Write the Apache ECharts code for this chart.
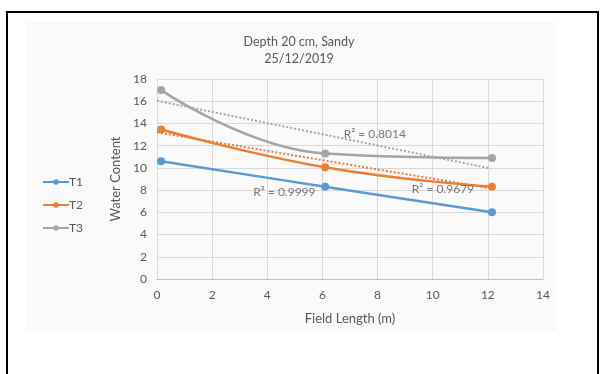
<!DOCTYPE html>
<html><head><meta charset="utf-8">
<script src="https://cdn.jsdelivr.net/npm/echarts@6/dist/echarts.min.js"></script>
<style>html,body{margin:0;padding:0;background:#fff}#c{width:601px;height:374px}</style>
</head><body><div id="c"></div>
<script>
const xValues = [0.15, 6.1, 12.15];
const t1 = [10.6, 8.3, 6.0];
const t2 = [13.45, 10.05, 8.3];
const t3 = [17.0, 11.3, 10.9];
const trendX = [0, 12.1];
const trendT2 = [13.2, 8.15];
const trendT3 = [16.05, 9.95];
const r2Labels = [
  {text: 'R² = 0.8014', x: 7.9, y: 13.05},
  {text: 'R² = 0.9999', x: 4.62, y: 7.83},
  {text: 'R² = 0.9679', x: 10.37, y: 8.1}
];
const xTicks = {min: 0, max: 14, interval: 2};
const yTicks = {min: 0, max: 18, interval: 2};

const pair = (xs, ys) => xs.map((x, i) => [x, ys[i]]);
const font = 'Lato, "Open Sans", sans-serif';
const txt = '#595959';
const chart = echarts.init(document.getElementById('c'), null, {renderer: 'canvas'});
const lineSeries = (name, data, color) => ({
  name, type: 'line', data: pair(xValues, data), smooth: 0.45,
  symbol: 'circle', symbolSize: 8,
  lineStyle: {color, width: 2.5}, itemStyle: {color}, z: 3
});
const trend = (data, color) => ({
  type: 'line', data: pair(trendX, data), symbol: 'none', silent: true,
  lineStyle: {color, width: 2, type: [2, 2]}, z: 4
});
chart.setOption({
  animation: false,
  backgroundColor: '#fff',
  graphic: [
    {type: 'rect', shape: {x: 27, y: 22, width: 529, height: 309}, style: {fill: '#fafafa'}, z: -10},
    {type: 'rect', shape: {x: 7, y: 12, width: 591, height: 420}, style: {fill: 'none', stroke: '#000', lineWidth: 2}, z: 100}
  ],
  title: {
    text: 'Depth 20 cm, Sandy\n25/12/2019', left: 294, top: 28, textAlign: 'center',
    textStyle: {fontFamily: font, fontSize: 12.5, fontWeight: 'normal', color: txt, lineHeight: 17}
  },
  legend: {
    orient: 'vertical', left: 37, top: 171, itemGap: 11, itemWidth: 26, itemHeight: 7,
    data: ['T1', 'T2', 'T3'],
    textStyle: {fontFamily: font, fontSize: 12, color: txt, padding: [0, 0, 0, -5]}
  },
  grid: {left: 157, right: 58, top: 79, bottom: 95},
  xAxis: {
    type: 'value', min: xTicks.min, max: xTicks.max, interval: xTicks.interval,
    name: 'Field Length (m)', nameLocation: 'middle', nameGap: 33,
    nameTextStyle: {fontFamily: font, fontSize: 13, color: txt},
    axisLine: {lineStyle: {color: '#bfbfbf'}}, axisTick: {show: false},
    axisLabel: {fontFamily: font, fontSize: 12, color: txt, margin: 10},
    splitLine: {lineStyle: {color: '#d9d9d9'}}
  },
  yAxis: {
    type: 'value', min: yTicks.min, max: yTicks.max, interval: yTicks.interval,
    name: 'Water Content', nameLocation: 'middle', nameGap: 34, nameRotate: 90,
    nameTextStyle: {fontFamily: font, fontSize: 13, color: txt},
    axisLine: {show: true, lineStyle: {color: '#d9d9d9'}}, axisTick: {show: false},
    axisLabel: {fontFamily: font, fontSize: 12, color: txt, margin: 10},
    splitLine: {lineStyle: {color: '#d9d9d9'}}
  },
  series: [
    lineSeries('T1', t1, '#5b9bd5'),
    lineSeries('T2', t2, '#ed7d31'),
    lineSeries('T3', t3, '#a5a5a5'),
    trend(trendT2, '#ed7d31'),
    trend(trendT3, '#a5a5a5'),
    {
      type: 'scatter', symbolSize: 0, silent: true, z: 5,
      data: r2Labels.map(d => ({value: [d.x, d.y], label: {formatter: d.text}})),
      label: {show: true, position: 'inside', fontFamily: font, fontSize: 12, color: txt}
    }
  ]
});
</script></body></html>
